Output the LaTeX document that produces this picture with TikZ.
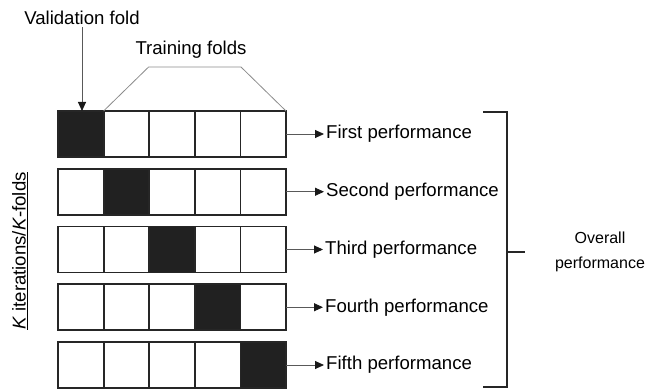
\documentclass[tikz,border=0pt]{standalone}
\usepackage{fontspec}
\setmainfont{Liberation Sans}
\usepackage{tikz}
\usetikzlibrary{arrows.meta,positioning,calc}

\begin{document}
\begin{tikzpicture}[
  x=1pt, y=1pt,
  fold/.style={draw=black!85, line width=1.8pt, minimum width=45.6pt,
    minimum height=46pt, inner sep=0pt, outer sep=0pt},
  valid/.style={fold, fill=black!87},
  arr/.style={-{Triangle[length=9pt, width=8pt, color=black!90]},
    draw=black!65, line width=0.9pt},
  lbl/.style={font=\fontsize{18.6}{21}\selectfont, inner sep=2pt},
  trap/.style={draw=black!45, line width=0.8pt},
  brace/.style={draw=black!85, line width=1.8pt},
]
\useasboundingbox (0,0) rectangle (646,389);

% folds: row r, the validation fold is cell r
\foreach \r in {1,...,5}{
  \foreach \c in {1,...,5}{
    \ifnum\r=\c
      \node[valid] (c\r\c) at ({58+45.6*(\c-0.5)}, {255-57.75*(\r-1)}) {};
    \else
      \node[fold] (c\r\c) at ({58+45.6*(\c-0.5)}, {255-57.75*(\r-1)}) {};
    \fi
  }
}

% performances
\node[lbl, anchor=west] (p1) at ($(c15.east)+(38,0)$) {First performance};
\node[lbl, anchor=west] (p2) at ($(c25.east)+(38,0)$) {Second performance};
\node[lbl, anchor=west] (p3) at ($(c35.east)+(37,0)$) {Third performance};
\node[lbl, anchor=west] (p4) at ($(c45.east)+(37,0)$) {Fourth performance};
\node[lbl, anchor=west] (p5) at ($(c55.east)+(38,0)$) {Fifth performance};
\foreach \r in {1,...,5}
  \draw[arr] (c\r5.east) -- (p\r.west);

% top labels
\node[lbl] (val) at (82,371) {Validation fold};
\draw[arr] (val.south) -- (val.south |- c11.north);
\node[lbl] (train) at (191,339) {Training folds};
\draw[trap] (c12.north west) -- ++(45,44)
  -- ($(c15.north east)+(-45,44)$) -- (c15.north east);

% side label
\node[lbl, rotate=90] (iter) at (20,138)
  {\underline{\textit{K} iterations/\textit{K}-folds}};

% bracket
\coordinate (bt) at (507,277);
\coordinate (bb) at (507,2);
\coordinate (bm) at (507,137);
\draw[brace] ($(bt)+(-24,0)$) -- (bt) -- (bb) -- ($(bb)+(-24,0)$);
\node[lbl, font=\fontsize{16}{25}\selectfont, align=center] (overall)
  at (600,137) {Overall\\performance};
\draw[brace] (bm) -- ++(18,0);

\end{tikzpicture}
\end{document}
